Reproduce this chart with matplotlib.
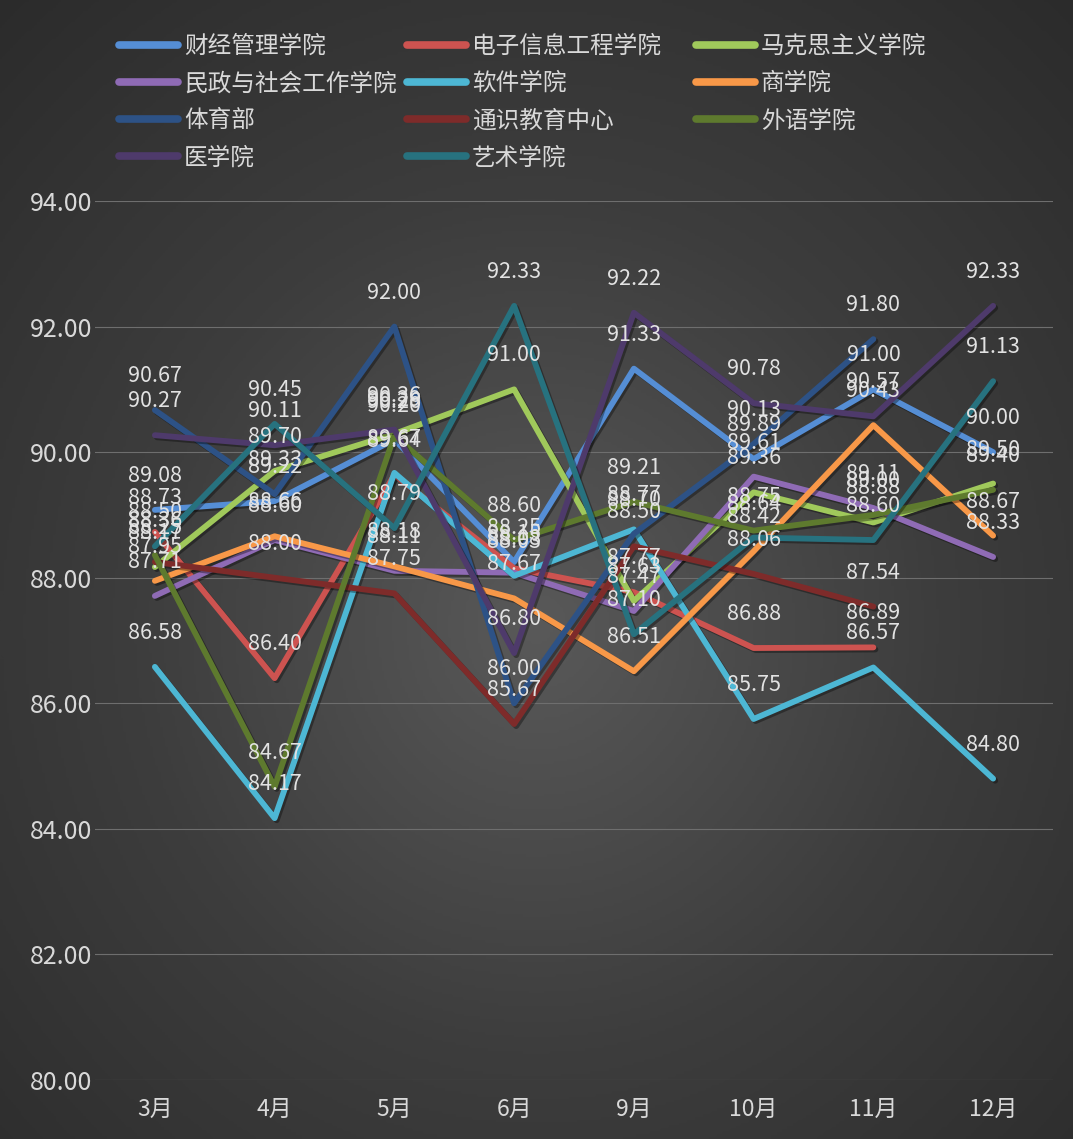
import numpy as np
import matplotlib
matplotlib.use('Agg')
import matplotlib.pyplot as plt
import matplotlib.patheffects as pe
from matplotlib.lines import Line2D
from matplotlib.colors import LinearSegmentedColormap

plt.rcParams['font.family'] = ['Noto Sans CJK SC', 'DejaVu Sans']

# ================================
# DATA
# ================================

months = ['3月', '4月', '5月', '6月', '9月', '10月', '11月', '12月']

colleges = ['财经管理学院', '电子信息工程学院', '马克思主义学院', '民政与社会工作学院',
            '软件学院', '商学院', '体育部', '通识教育中心', '外语学院', '医学院', '艺术学院']

caijing = [89.08, 89.22, 90.20, 88.25, 91.33, 89.89, 91.00, 90.00]
dianzi = [88.73, 86.40, 89.64, 88.15, 87.77, 86.88, 86.89, None]
makesi = [88.17, 89.70, 90.29, 91.00, 87.63, 89.36, 88.88, 89.50]
minzheng = [87.71, 88.60, 88.11, 88.08, 87.47, 89.61, 89.11, 88.33]
ruanjian = [86.58, 84.17, 89.67, 88.03, 88.77, 85.75, 86.57, 84.80]
shang = [87.95, 88.66, 88.18, 87.67, 86.51, 88.42, 90.43, 88.67]
tiyu = [90.67, 89.33, 92.00, 86.00, 88.70, 90.13, 91.80, None]
tongshi = [88.25, 88.00, 87.75, 85.67, 88.50, 88.06, 87.54, None]
waiyu = [88.36, 84.67, 90.26, 88.60, 89.21, 88.75, 89.00, 89.40]
yixue = [90.27, 90.11, 90.36, 86.80, 92.22, 90.78, 90.57, 92.33]
yishu = [88.50, 90.45, 88.79, 92.33, 87.10, 88.64, 88.60, 91.13]

series = [caijing, dianzi, makesi, minzheng, ruanjian, shang,
          tiyu, tongshi, waiyu, yixue, yishu]

colors = ['#558ED5', '#CD5350', '#A0C95B', '#8F6BB5', '#4DB7D4', '#F89848',
          '#2D5286', '#7E2B2A', '#5E7A2E', '#4E3A6B', '#27727F']

# ================================
# FIGURE & BACKGROUND
# ================================

W, H = 1073, 1139
fig = plt.figure(figsize=(W / 100, H / 100), dpi=100)

bg = fig.add_axes([0, 0, 1, 1], zorder=-10)
yy, xx = np.mgrid[0:1:400j, 0:1:400j]
r = np.sqrt((xx - 0.5) ** 2 + (yy - 0.55) ** 2)
bg_cmap = LinearSegmentedColormap.from_list('bg', ['#595959', '#3d3d3d', '#2b2b2b'])
bg.imshow(r, cmap=bg_cmap, extent=[0, 1, 0, 1], origin='upper',
          aspect='auto', vmin=0, vmax=0.75)
bg.axis('off')

ax = fig.add_axes([95 / W, 1 - 1080 / H, 958 / W, 879 / H])
ax.patch.set_alpha(0)

# ================================
# LINES & LABELS
# ================================

x = np.arange(len(months))
shadow = [pe.SimpleLineShadow(offset=(1.5, -1.5), shadow_color='black', alpha=0.35),
          pe.Normal()]

for name, vals, c in zip(colleges, series, colors):
    y = np.array([np.nan if v is None else v for v in vals], dtype=float)
    ax.plot(x, y, color=c, lw=4.2, solid_capstyle='round',
            solid_joinstyle='round', path_effects=shadow, zorder=3)

for vals in series:
    for xi, v in zip(x, vals):
        if v is None:
            continue
        ax.annotate(f'{v:.2f}', (xi, v), xytext=(0, 24.5), textcoords='offset points',
                    ha='center', va='center', fontsize=15.5, color='#e2e2e2', zorder=10)

ax.set_xlim(-0.5, len(months) - 0.5)
ax.set_ylim(80, 94)
ax.set_yticks(np.arange(80, 94.1, 2))
ax.yaxis.set_major_formatter(matplotlib.ticker.StrMethodFormatter('{x:.2f}'))
ax.set_xticks(x)
ax.set_xticklabels(months)
ax.grid(axis='y', color='#6e6e6e', lw=0.8)
ax.set_axisbelow(True)
ax.tick_params(length=0, colors='#d9d9d9')
ax.tick_params(axis='x', pad=13, labelsize=16.5)
ax.tick_params(axis='y', pad=2, labelsize=18)
for s in ax.spines.values():
    s.set_visible(False)

# ================================
# LEGEND (3 equal columns, row-major)
# ================================

col_x = [119, 407, 696]
for j, x0 in enumerate(col_x):
    idx = list(range(j, len(colleges), 3))
    handles = [Line2D([], [], color=colors[i], lw=5.5, solid_capstyle='round') for i in idx]
    labels = [colleges[i] for i in idx]
    fig.legend(handles, labels, loc='upper left', bbox_to_anchor=(x0 / W, 1 - 35 / H),
               frameon=False, fontsize=17, handlelength=2.5, handletextpad=0.25,
               labelspacing=0.6, borderpad=0, borderaxespad=0, labelcolor='#d9d9d9')

fig.savefig('out.png', dpi=100)
